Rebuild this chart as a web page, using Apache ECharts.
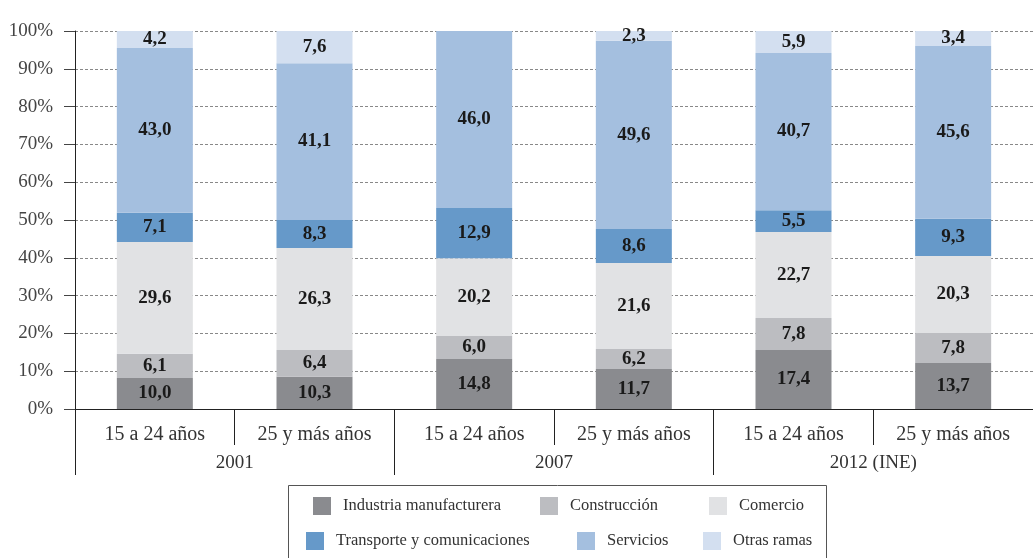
<!DOCTYPE html>
<html>
<head>
<meta charset="utf-8">
<script src="https://cdn.jsdelivr.net/npm/echarts@6/dist/echarts.min.js"></script>
<style>
  html, body { margin: 0; padding: 0; background: #fff; }
  #chart { width: 1033px; height: 558px; }
</style>
</head>
<body>
<div id="chart"></div>
<script>
const ageGroups = ['15 a 24 años', '25 y más años', '15 a 24 años', '25 y más años', '15 a 24 años', '25 y más años'];
const years = ['2001', '2007', '2012 (INE)'];

const seriesNames = ['Industria manufacturera', 'Construcción', 'Comercio', 'Transporte y comunicaciones', 'Servicios', 'Otras ramas'];

// segment heights as drawn in the picture (% of the bar)
const industria = [8.2, 8.5, 13.2, 10.6, 15.6, 12.2];
const construccion = [6.4, 7.1, 6.1, 5.3, 8.5, 7.9];
const comercio = [29.6, 27.0, 20.6, 22.7, 22.7, 20.4];
const transporte = [7.7, 7.4, 13.3, 9.0, 5.8, 9.8];
const servicios = [43.6, 41.5, 46.8, 49.8, 41.6, 45.7];
const otras = [4.5, 8.5, null, 2.6, 5.8, 4.0];

// values printed on the segments
const industriaLbl = [10.0, 10.3, 14.8, 11.7, 17.4, 13.7];
const construccionLbl = [6.1, 6.4, 6.0, 6.2, 7.8, 7.8];
const comercioLbl = [29.6, 26.3, 20.2, 21.6, 22.7, 20.3];
const transporteLbl = [7.1, 8.3, 12.9, 8.6, 5.5, 9.3];
const serviciosLbl = [43.0, 41.1, 46.0, 49.6, 40.7, 45.6];
const otrasLbl = [4.2, 7.6, null, 2.3, 5.9, 3.4];

const colors = ['#8a8b8f', '#bcbdc1', '#e1e2e4', '#6699c9', '#a4bfdf', '#d3dff0'];
const yTicks = [0, 10, 20, 30, 40, 50, 60, 70, 80, 90, 100];

const FONT = 'Liberation Serif';
const seriesData = [industria, construccion, comercio, transporte, servicios, otras];
const seriesLabels = [industriaLbl, construccionLbl, comercioLbl, transporteLbl, serviciosLbl, otrasLbl];

// legend item placement (box with two rows of three)
const legendSpots = [
  [313, 497], [540, 497], [709, 497],
  [306, 532], [577, 532], [703, 532]
];

const chart = echarts.init(document.getElementById('chart'), null, { renderer: 'canvas' });

const option = {
  animation: false,
  color: colors,
  textStyle: { fontFamily: FONT },
  grid: { left: 75, top: 31, height: 378, width: 967, containLabel: false },
  xAxis: [
    {
      type: 'category',
      data: ageGroups,
      position: 'bottom',
      axisLine: { show: true, lineStyle: { color: '#222', width: 1 } },
      axisTick: { show: true, interval: 0, length: 36, lineStyle: { color: '#222' } },
      axisLabel: { interval: 0, margin: 16, fontSize: 20, color: '#333', fontFamily: FONT }
    },
    {
      type: 'category',
      data: years,
      position: 'bottom',
      axisLine: { show: false },
      axisTick: { show: true, interval: 0, length: 66, lineStyle: { color: '#222' } },
      axisLabel: { interval: 0, margin: 45, fontSize: 19, color: '#333', fontFamily: FONT }
    }
  ],
  yAxis: {
    type: 'value',
    min: yTicks[0],
    max: yTicks[yTicks.length - 1],
    interval: 10,
    axisLine: { show: true, lineStyle: { color: '#222', width: 1 } },
    axisTick: { show: true, length: 11, lineStyle: { color: '#444' } },
    axisLabel: { margin: 22, fontSize: 19, color: '#444', fontFamily: FONT, formatter: '{value}%' },
    splitLine: { show: true, lineStyle: { color: '#888', type: [3, 2], width: 1 } }
  },
  legend: seriesNames.map((name, i) => ({
    data: [name],
    left: legendSpots[i][0],
    top: legendSpots[i][1],
    padding: 0,
    itemWidth: 18,
    itemHeight: 18,
    icon: 'rect',
    selectedMode: false,
    textStyle: { fontFamily: FONT, fontSize: 16.5, color: '#333', padding: [0, 0, 0, 7] }
  })),
  graphic: [{
    type: 'rect',
    shape: { x: 288.5, y: 485.5, width: 538, height: 100 },
    style: { fill: 'none', stroke: '#555', lineWidth: 1 },
    silent: true
  }],
  series: seriesNames.map((name, i) => ({
    name: name,
    type: 'bar',
    stack: 'total',
    barWidth: 76,
    data: seriesData[i],
    itemStyle: { color: colors[i] },
    label: {
      show: true,
      position: 'inside',
      fontFamily: FONT,
      fontSize: 19,
      fontWeight: 'bold',
      color: '#1a1a1a',
      formatter: p => {
        const v = seriesLabels[i][p.dataIndex];
        return v == null ? '' : v.toFixed(1).replace('.', ',');
      }
    }
  }))
};

chart.setOption(option);
</script>
</body>
</html>
